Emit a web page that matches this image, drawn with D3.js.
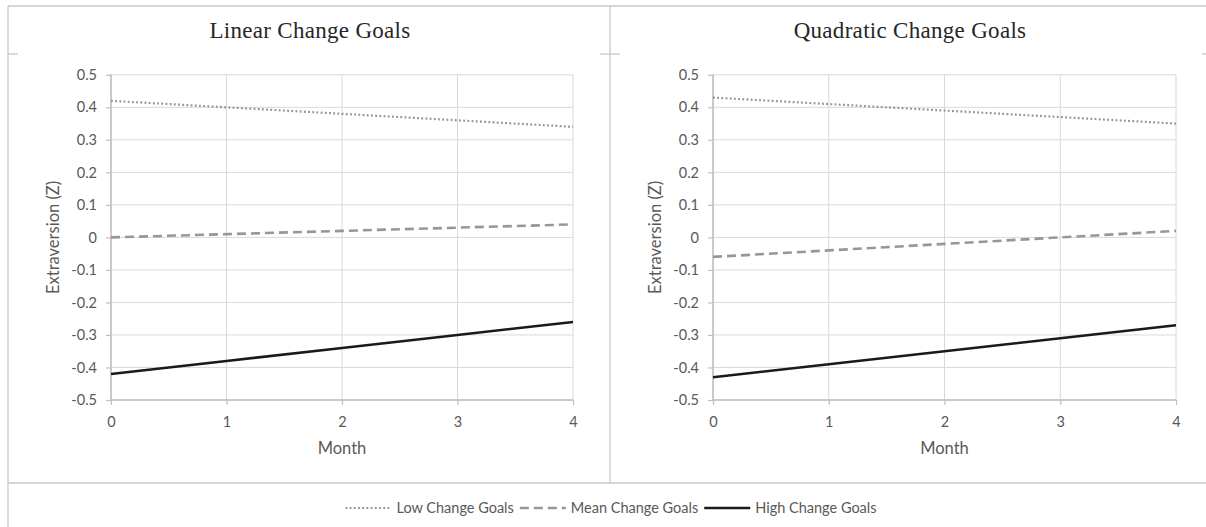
<!DOCTYPE html>
<html>
<head>
<meta charset="utf-8">
<script src="https://cdn.jsdelivr.net/npm/d3@7"></script>
<style>
  body { margin: 0; background: #fff; }
  svg { display: block; }
</style>
</head>
<body>
<div id="chart"></div>
<script>
// Data
const months = [0, 1, 2, 3, 4];
const seriesNames = ["Low Change Goals", "Mean Change Goals", "High Change Goals"];
const linearLow = [0.42, 0.40, 0.38, 0.36, 0.34];
const linearMean = [0.00, 0.01, 0.02, 0.03, 0.04];
const linearHigh = [-0.42, -0.38, -0.34, -0.30, -0.26];
const quadLow = [0.43, 0.41, 0.39, 0.37, 0.35];
const quadMean = [-0.06, -0.04, -0.02, 0.00, 0.02];
const quadHigh = [-0.43, -0.39, -0.35, -0.31, -0.27];
const yTicks = [0.5, 0.4, 0.3, 0.2, 0.1, 0, -0.1, -0.2, -0.3, -0.4, -0.5];
const panelTitles = ["Linear Change Goals", "Quadratic Change Goals"];

const W = 1206, H = 527;
const font = "Lato, 'Open Sans', sans-serif";
const textGrey = "#595959";
const border = "#c8c8c8";

// line styles per series
const styles = [
  {stroke: "#929292", width: 2.2, dash: "1.8,2.4"},
  {stroke: "#979797", width: 2.6, dash: "9,5"},
  {stroke: "#1a1a1a", width: 2.6, dash: null}
];

const svg = d3.select("#chart").append("svg")
  .attr("width", W)
  .attr("height", H);

// Table-like frame around the panels
const frame = svg.append("g").attr("stroke", border).attr("stroke-width", 1.3).attr("fill", "none");
frame.append("line").attr("x1", 8).attr("x2", W).attr("y1", 6).attr("y2", 6);
frame.append("line").attr("x1", 8).attr("x2", 8).attr("y1", 6).attr("y2", H);
frame.append("line").attr("x1", 8).attr("x2", W).attr("y1", 483).attr("y2", 483);
frame.append("line").attr("x1", 610).attr("x2", 610).attr("y1", 6).attr("y2", 483);
frame.append("line").attr("x1", 8).attr("x2", 18).attr("y1", 54).attr("y2", 54);
frame.append("line").attr("x1", 600).attr("x2", 620).attr("y1", 54).attr("y2", 54);
frame.append("line").attr("x1", 1202).attr("x2", W).attr("y1", 54).attr("y2", 54);

const panels = [
  {title: panelTitles[0], left: 111, right: 573, cx: 310, series: [linearLow, linearMean, linearHigh]},
  {title: panelTitles[1], left: 713, right: 1176, cx: 910, series: [quadLow, quadMean, quadHigh]}
];

const plotTop = 74.8, plotBottom = 400;

panels.forEach(p => {
  const g = svg.append("g");

  const x = d3.scaleLinear().domain([0, 4]).range([p.left, p.right]);
  const y = d3.scaleLinear().domain([-0.5, 0.5]).range([plotBottom, plotTop]);

  // Title
  g.append("text")
    .attr("x", p.cx)
    .attr("y", 38)
    .attr("text-anchor", "middle")
    .style("font-family", "'Liberation Serif', 'DejaVu Serif', serif")
    .style("font-size", "23px")
    .style("letter-spacing", "0.3px")
    .attr("fill", "#262626")
    .text(p.title);

  // Gridlines
  g.append("g")
    .selectAll("line")
    .data(yTicks)
    .join("line")
    .attr("x1", p.left).attr("x2", p.right)
    .attr("y1", d => y(d)).attr("y2", d => y(d))
    .attr("stroke", "#d9d9d9").attr("stroke-width", 1);
  g.append("g")
    .selectAll("line")
    .data(months)
    .join("line")
    .attr("x1", d => x(d)).attr("x2", d => x(d))
    .attr("y1", plotTop).attr("y2", plotBottom)
    .attr("stroke", "#d9d9d9").attr("stroke-width", 1);

  // Axes
  const yAxis = g.append("g")
    .attr("transform", `translate(${p.left},0)`)
    .call(d3.axisLeft(y).tickValues(yTicks).tickSize(5).tickPadding(9)
      .tickFormat(d => String(+d.toFixed(1))));
  const xAxis = g.append("g")
    .attr("transform", `translate(0,${plotBottom})`)
    .call(d3.axisBottom(x).tickValues(months).tickSize(5).tickPadding(12).tickFormat(d3.format("d")));

  [yAxis, xAxis].forEach(ax => {
    ax.select(".domain").attr("stroke", "#bfbfbf").attr("stroke-width", 1.5);
    ax.selectAll(".tick line").attr("stroke", "#bfbfbf").attr("stroke-width", 1.2);
    ax.selectAll(".tick text")
      .attr("fill", textGrey)
      .style("font-family", font)
      .style("font-size", "14.5px");
  });
  yAxis.select(".domain").attr("d", `M0,${plotTop}V${plotBottom}`);
  xAxis.select(".domain").attr("d", `M${p.left},0H${p.right}`);

  // Axis titles
  g.append("text")
    .attr("x", (p.left + p.right) / 2)
    .attr("y", 454)
    .attr("text-anchor", "middle")
    .attr("fill", textGrey)
    .style("font-family", font)
    .style("font-size", "16.5px")
    .text("Month");

  g.append("text")
    .attr("transform", `translate(${p.left - 58},${(plotTop + plotBottom) / 2}) rotate(-90)`)
    .attr("text-anchor", "middle")
    .attr("dy", "0.35em")
    .attr("fill", textGrey)
    .style("font-family", font)
    .style("font-size", "16.5px")
    .text("Extraversion (Z)");

  // Lines
  const line = d3.line().x((d, i) => x(months[i])).y(d => y(d));
  p.series.forEach((vals, i) => {
    const s = styles[i];
    g.append("path")
      .datum(vals)
      .attr("d", line)
      .attr("fill", "none")
      .attr("stroke", s.stroke)
      .attr("stroke-width", s.width)
      .attr("stroke-dasharray", s.dash);
  });
});

// Legend
const legend = svg.append("g");
const legendY = 508;
const sampleW = 46;
let lx = 0;
seriesNames.forEach((name, i) => {
  const it = legend.append("g");
  const s = styles[i];
  it.append("line")
    .attr("x1", 0).attr("x2", sampleW)
    .attr("y1", 0).attr("y2", 0)
    .attr("stroke", s.stroke)
    .attr("stroke-width", s.width)
    .attr("stroke-dasharray", s.dash);
  const t = it.append("text")
    .attr("x", sampleW + 5)
    .attr("dy", "0.35em")
    .attr("fill", textGrey)
    .style("font-family", font)
    .style("font-size", "14.5px")
    .text(name);
  const w = sampleW + 5 + t.node().getComputedTextLength();
  it.attr("transform", `translate(${lx},0)`);
  lx += w + 6;
});
const totalW = lx - 6;
legend.attr("transform", `translate(${611 - totalW / 2},${legendY})`);
</script>
</body>
</html>
